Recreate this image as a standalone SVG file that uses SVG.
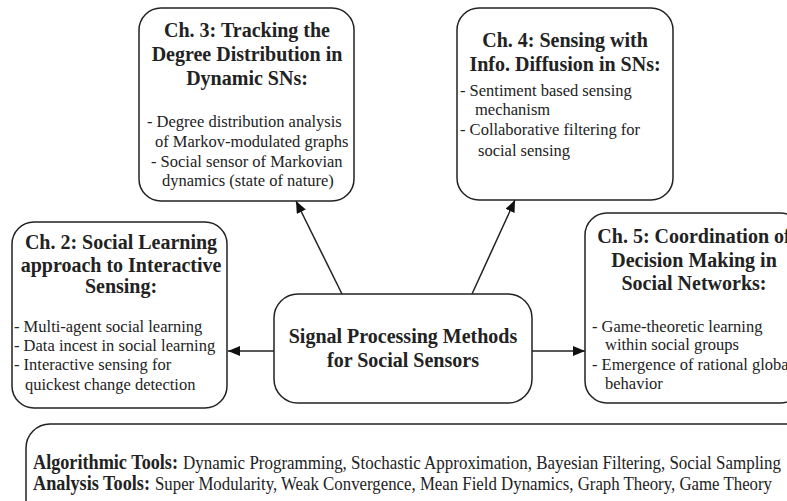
<svg xmlns="http://www.w3.org/2000/svg" width="787" height="501" viewBox="0 0 787 501">
<style>
.box{fill:#fff;stroke:#222;stroke-width:1.5}
.t{font-family:"Liberation Serif","Times New Roman",serif;font-weight:bold;font-size:20px;fill:#222;text-anchor:middle}
.b{font-family:"Liberation Serif","Times New Roman",serif;font-size:16.5px;fill:#222}
.bb{font-family:"Liberation Serif","Times New Roman",serif;font-weight:bold;font-size:20px;fill:#222}
.br{font-family:"Liberation Serif","Times New Roman",serif;font-size:18px;fill:#222}
.conn{stroke:#222;stroke-width:1.5;fill:none;marker-end:url(#ah)}
</style>
<defs>
<marker id="ah" viewBox="0 0 12 10" refX="12" refY="5" markerWidth="12" markerHeight="10" markerUnits="userSpaceOnUse" orient="auto">
<path d="M0,0 L12,5 L0,10 z" fill="#111"/>
</marker>
</defs>
<rect width="787" height="501" fill="#fff"/>
<g id="connectors">
<line class="conn" x1="274" y1="351" x2="228" y2="351"/>
<line class="conn" x1="532" y1="351" x2="585" y2="351"/>
<line class="conn" x1="342" y1="294" x2="296" y2="201"/>
<line class="conn" x1="472" y1="294" x2="515" y2="200"/>
</g>
<g id="ch3">
<rect class="box" x="139" y="8" width="215" height="193" rx="22"/>
<text class="t" x="247" y="37">Ch. 3: Tracking the</text>
<text class="t" x="247" y="61">Degree Distribution in</text>
<text class="t" x="247" y="85">Dynamic SNs:</text>
<text class="b" x="147" y="127">- Degree distribution analysis</text>
<text class="b" x="155" y="147">of Markov-modulated graphs</text>
<text class="b" x="151" y="167">- Social sensor of Markovian</text>
<text class="b" x="162" y="186">dynamics (state of nature)</text>
</g>
<g id="ch4">
<rect class="box" x="457" y="8" width="216" height="192" rx="22"/>
<text class="t" x="565" y="47">Ch. 4: Sensing with</text>
<text class="t" x="565" y="71">Info. Diffusion in SNs:</text>
<text class="b" x="460" y="96">- Sentiment based sensing</text>
<text class="b" x="475" y="115">mechanism</text>
<text class="b" x="460" y="135">- Collaborative filtering for</text>
<text class="b" x="478" y="156">social sensing</text>
</g>
<g id="ch2">
<rect class="box" x="12" y="222" width="215" height="186" rx="22"/>
<text class="t" x="121" y="249">Ch. 2: Social Learning</text>
<text class="t" x="121" y="272">approach to Interactive</text>
<text class="t" x="121" y="293">Sensing:</text>
<text class="b" x="14" y="332">- Multi-agent social learning</text>
<text class="b" x="14" y="351">- Data incest in social learning</text>
<text class="b" x="14" y="370">- Interactive sensing for</text>
<text class="b" x="25" y="390">quickest change detection</text>
</g>
<g id="ch5">
<rect class="box" x="585" y="213" width="217" height="190" rx="22"/>
<text class="t" x="694" y="243">Ch. 5: Coordination of</text>
<text class="t" x="694" y="267">Decision Making in</text>
<text class="t" x="694" y="290">Social Networks:</text>
<text class="b" x="592" y="332">- Game-theoretic learning</text>
<text class="b" x="605" y="350">within social groups</text>
<text class="b" x="592" y="370">- Emergence of rational global</text>
<text class="b" x="605" y="389">behavior</text>
</g>
<g id="center">
<rect class="box" x="274" y="294" width="258" height="109" rx="24"/>
<text class="t" x="403" y="343">Signal Processing Methods</text>
<text class="t" x="403" y="367">for Social Sensors</text>
</g>
<g id="tools">
<rect class="box" x="26" y="424" width="790" height="100" rx="24"/>
<text class="bb" x="33" y="469" textLength="145" lengthAdjust="spacingAndGlyphs">Algorithmic Tools:</text>
<text class="br" x="183" y="469" textLength="598" lengthAdjust="spacingAndGlyphs">Dynamic Programming, Stochastic Approximation, Bayesian Filtering, Social Sampling</text>
<text class="bb" x="33" y="490" textLength="117" lengthAdjust="spacingAndGlyphs">Analysis Tools:</text>
<text class="br" x="155" y="490" textLength="617" lengthAdjust="spacingAndGlyphs">Super Modularity, Weak Convergence, Mean Field Dynamics, Graph Theory, Game Theory</text>
</g>
</svg>
